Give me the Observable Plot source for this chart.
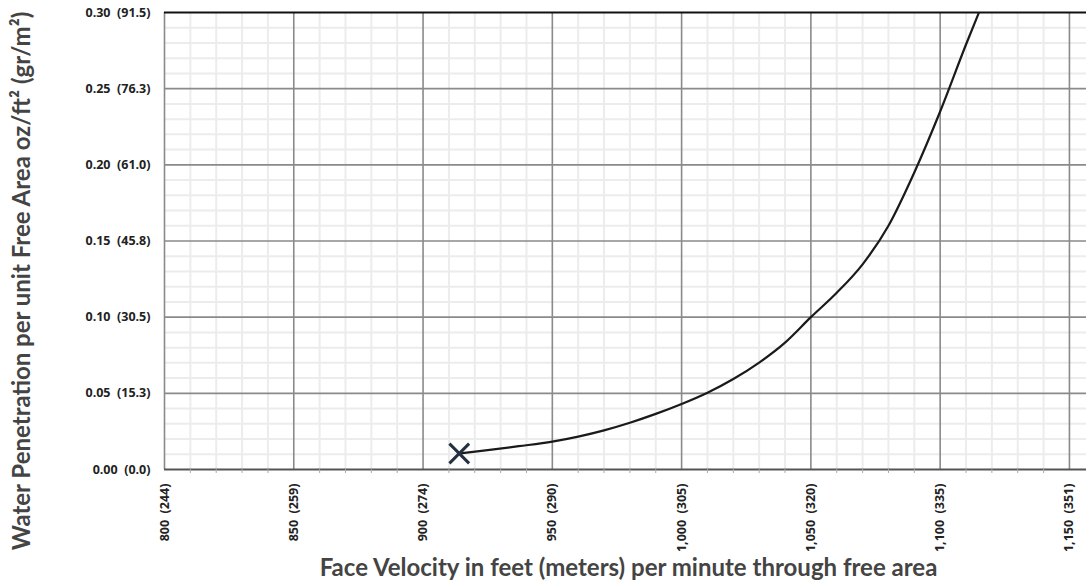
<!DOCTYPE html>
<html>
<head>
<meta charset="utf-8">
<script src="https://cdn.jsdelivr.net/npm/d3@7"></script>
<script src="https://cdn.jsdelivr.net/npm/@observablehq/plot@0.6"></script>
<style>
  html, body { margin: 0; padding: 0; background: #fff; }
  #chart svg { display: block; }
</style>
</head>
<body>
<div id="chart"></div>
<script>
// Data
const velocity = [914, 925, 937, 950, 960, 970, 980, 990, 1000, 1010, 1020, 1030, 1040, 1050, 1060, 1070, 1080, 1090, 1100, 1110, 1115];
const penetration = [0.0105, 0.0127, 0.0153, 0.0183, 0.0216, 0.0257, 0.0307, 0.0365, 0.043, 0.0504, 0.0594, 0.0702, 0.0833, 0.100, 0.116, 0.1347, 0.160, 0.195, 0.235, 0.279, 0.30];

const startPoint = [{x: 914, y: 0.0105}];

const xTicks = [800, 850, 900, 950, 1000, 1050, 1100, 1150];
const xTickLabels = ["800  (244)", "850  (259)", "900  (274)", "950  (290)", "1,000  (305)", "1,050  (320)", "1,100  (335)", "1,150  (351)"];
const yTicks = [0, 0.05, 0.10, 0.15, 0.20, 0.25, 0.30];
const yTickLabels = ["0.00  (0.0)", "0.05  (15.3)", "0.10  (30.5)", "0.15  (45.8)", "0.20  (61.0)", "0.25  (76.3)", "0.30  (91.5)"];

const xTitle = "Face Velocity in feet (meters) per minute through free area";
const yTitle = "Water Penetration per unit Free Area oz/ft\u00B2 (gr/m\u00B2)";

const xMinor = d3.range(800, 1160, 10).filter(v => !xTicks.includes(v));
const yMinor = d3.range(0, 31, 1).map(v => v / 100).filter(v => !yTicks.some(t => Math.abs(t - v) < 1e-9));

const curve = velocity.map((v, i) => ({x: v, y: penetration[i]}));

const xLabel = new Map(xTicks.map((t, i) => [t, xTickLabels[i]]));
const yLabel = new Map(yTicks.map((t, i) => [t.toFixed(2), yTickLabels[i]]));

const chart = Plot.plot({
  width: 1086,
  height: 584,
  marginLeft: 164,
  marginRight: 0,
  marginTop: 12,
  marginBottom: 115,
  style: {fontFamily: "'Open Sans', sans-serif", background: "#fff"},
  x: {domain: [800, 1156.6]},
  y: {domain: [0, 0.30]},
  marks: [
    // minor grid
    Plot.ruleX(xMinor, {stroke: "#ececec", strokeWidth: 2}),
    Plot.ruleY(yMinor, {stroke: "#ececec", strokeWidth: 2}),
    // major grid
    Plot.ruleX(xTicks, {stroke: "#8a8a8a", strokeWidth: 1.6}),
    Plot.ruleY(yTicks.slice(1, -1), {stroke: "#8a8a8a", strokeWidth: 1.6}),
    // frame lines
    Plot.ruleY([0.30], {stroke: "#111", strokeWidth: 2}),
    Plot.ruleY([0], {stroke: "#555", strokeWidth: 2}),
    // minor tick marks under the x axis
    Plot.axisX({ticks: xMinor, tickSize: 4, tickFormat: () => "", stroke: "#aaa", label: null}),
    // axes
    Plot.axisX({
      ticks: xTicks, tickSize: 0, tickPadding: 14, tickRotate: -90,
      tickFormat: d => xLabel.get(d),
      fontSize: 12.5, fontWeight: 700, fill: "#222", label: null
    }),
    Plot.axisY({
      ticks: yTicks, tickSize: 0, tickPadding: 14,
      tickFormat: d => yLabel.get(d.toFixed(2)),
      fontSize: 12.5, fontWeight: 700, fill: "#222", label: null
    }),
    // data curve
    Plot.line(curve, {x: "x", y: "y", curve: "monotone-x", stroke: "#1a1a1a", strokeWidth: 2.2, clip: true}),
    Plot.dot(startPoint, {x: "x", y: "y", symbol: "times", r: 9, stroke: "#263140", strokeWidth: 3}),
    // axis titles
    Plot.text([xTitle], {
      text: d => d, frameAnchor: "bottom", textAnchor: "middle", lineAnchor: "middle", dy: 99, dx: 3,
      fontSize: 24, fontWeight: 700, fill: "#444", fontFamily: "Lato, sans-serif"
    }),
    Plot.text([yTitle], {
      text: d => d, frameAnchor: "left", textAnchor: "middle", rotate: -90, dx: -142, dy: 40, lineAnchor: "middle",
      fontSize: 24, fontWeight: 700, fill: "#444", fontFamily: "Lato, sans-serif"
    })
  ]
});

document.getElementById("chart").append(chart);
</script>
</body>
</html>
